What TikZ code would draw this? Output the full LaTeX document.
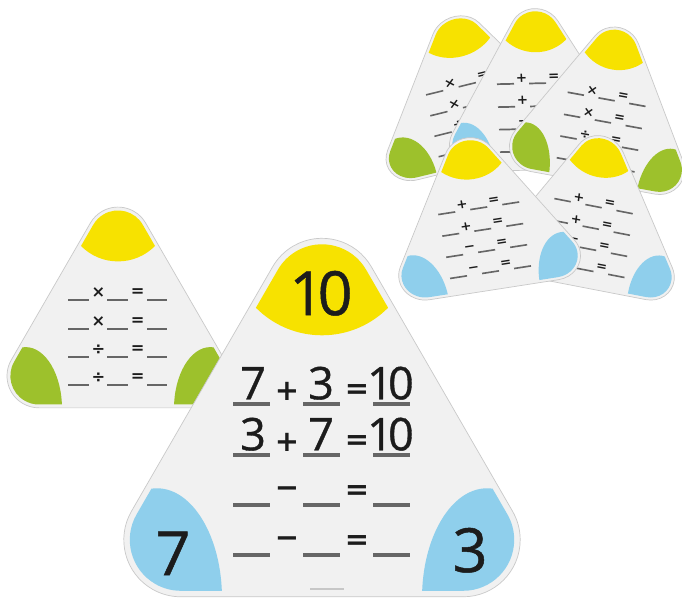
\documentclass[tikz,border=0pt]{standalone}
\usepackage{fontspec}
\newfontfamily\digitfont{Open Sans}[Numbers=Proportional,FakeBold=0.8]
\newfontfamily\symfont{DejaVu Sans}
\definecolor{cardfill}{HTML}{F1F1F1}
\definecolor{cardedge}{HTML}{C9C9C9}
\definecolor{capyellow}{HTML}{F7E200}
\definecolor{capblue}{HTML}{8FCFEC}
\definecolor{capgreen}{HTML}{9DC12C}
\definecolor{ulgrey}{HTML}{666666}
\definecolor{ink}{HTML}{1C1C1C}
% rounded equilateral card, inset arc radius #1
\newcommand\rtri[1]{(141.2,{-81.5-#1}) arc[start angle=-90,end angle=30,radius=#1] -- ({0.866*#1},{163+0.5*#1}) arc[start angle=30,end angle=150,radius=#1] -- ({-141.2-0.866*#1},{-81.5+0.5*#1}) arc[start angle=150,end angle=270,radius=#1] -- cycle}
\tikzset{
  opsym/.style={font=\symfont\bfseries\fontsize{29}{29}\selectfont, text=ink, inner sep=0pt, transform shape},
  bigdig/.style={font=\digitfont\fontsize{61}{61}\selectfont, text=ink, inner sep=0pt},
  rowdig/.style={font=\digitfont\fontsize{45}{45}\selectfont, text=ink, inner sep=0pt, anchor=base},
}
\newcommand\fcard[7]{%
\begin{scope}[cm={#2}]
  \fill[cardfill] \rtri{57};
  \draw[cardedge, line width=0.7pt] \rtri{57};
  \begin{scope}
    \clip \rtri{51};
    \fill[capyellow] (0,216) circle[radius=93];
    \fill[#3] (-165,-140) ellipse[x radius=65,y radius=110];
    \fill[#3] (165,-140) ellipse[x radius=65,y radius=110];
  \end{scope}
  \foreach \yy/\ss [count=\k] in {54/#4,3/#5,-47/#6,-97/#7}{%
    \fill[ulgrey] (-89,{\yy-1.9}) rectangle (-52,{\yy+1.9});
    \fill[ulgrey] (-19,{\yy-1.9}) rectangle (18,{\yy+1.9});
    \fill[ulgrey] (51,{\yy-1.9}) rectangle (88,{\yy+1.9});
    \node[opsym] (#1-op\k) at (-35,{\yy+13}) {\ss};
    \node[opsym] (#1-eq\k) at (35,{\yy+13}) {=};
  }
\end{scope}}
\begin{document}
\begin{tikzpicture}[x=1pt,y=1pt]
\useasboundingbox (0,0) rectangle (682,601);
\clip (0,0) rectangle (682,601);
\fill[white] (0,0) rectangle (682,601);
% stack of cards, top right (back to front)
\fcard{cA}{0.466,0.115,-0.0833,0.4095,(472,494.2)}{capgreen}{×}{×}{÷}{÷}
\fcard{cB}{0.46,0.01,-0.02,0.45,(539,493.4)}{capblue}{+}{+}{−}{−}
\fcard{cC}{0.44,-0.08,0.0722,0.4335,(602.9,478.2)}{capgreen}{×}{×}{÷}{÷}
\fcard{cE}{0.443,-0.0857,0.0548,0.4224,(590.8,372)}{capblue}{+}{+}{−}{−}
\fcard{cD}{0.457,0.071,-0.0783,0.4232,(483.2,369.9)}{capblue}{+}{+}{−}{−}
% small card, left
\fcard{sm}{0.56,0,0,0.56,(118,270.7)}{capgreen}{×}{×}{÷}{÷}
% big card
\fcard{bg}{1,0,0,1,(322,142.7)}{capblue}{+}{+}{−}{−}
\begin{scope}[shift={(322,142.7)}]
  \node[bigdig] (bg-top) at (1,165) {10};
  \node[bigdig] (bg-left) at (-149,-95) {7};
  \node[bigdig] (bg-right) at (148,-92) {3};
  \node[rowdig] (r1a) at (-69,59) {7};
  \node[rowdig] (r1b) at (-1,59) {3};
  \node[rowdig] (r1c) at (70,59) {10};
  \node[rowdig] (r2a) at (-69,8) {3};
  \node[rowdig] (r2b) at (-1,8) {7};
  \node[rowdig] (r2c) at (70,8) {10};
  \fill[black!22] (-12,-131.5) rectangle (22,-130);
\end{scope}
\end{tikzpicture}
\end{document}
